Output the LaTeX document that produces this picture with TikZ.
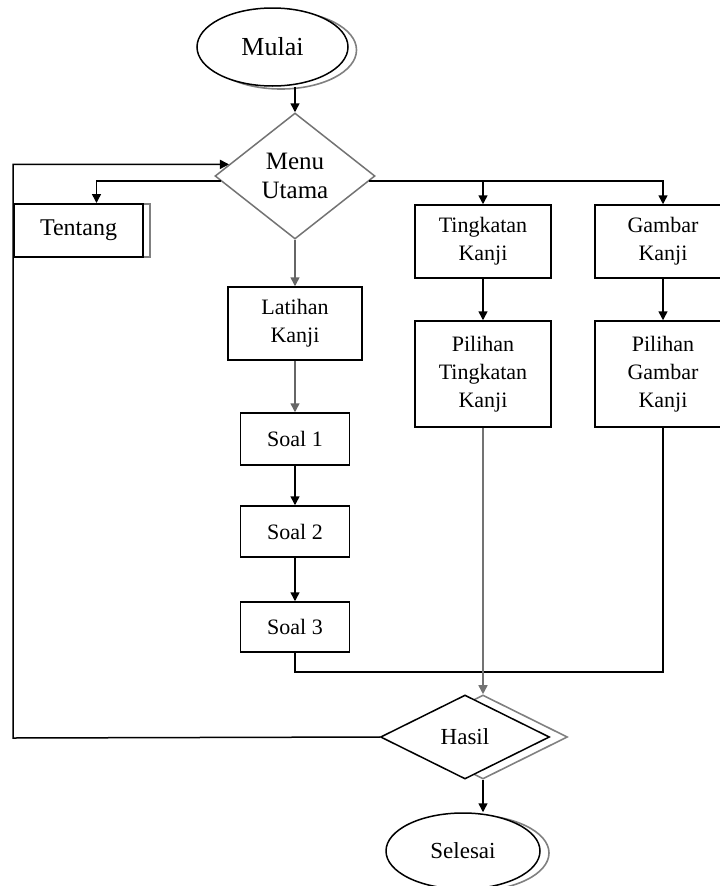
\documentclass[tikz,border=0pt]{standalone}
\usepackage{fontspec}
\setmainfont{Liberation Serif}
\usepackage{tikz}
\usetikzlibrary{arrows.meta,shapes}

\begin{document}
\begin{tikzpicture}[x=1pt,y=-1pt,>={Triangle[length=9pt,width=9pt]},
every node/.style={font=\fontsize{22}{28}\selectfont},
proses/.style={draw,line width=1.5pt,rectangle,inner sep=0pt,align=center,fill=white},
pilih/.style={draw,line width=1.5pt,diamond,inner sep=0pt,align=center,fill=white},
ujung/.style={draw,line width=1.5pt,ellipse,inner sep=0pt,fill=white},
bayang/.style={draw=black!50,line width=1.6pt},
garis/.style={line width=1.5pt}]
\useasboundingbox (0,0) rectangle (720,886);
% bayangan dulu
\node[bayang,ellipse,minimum width=151,minimum height=78] (mulaibg) at (281,50) {};
\node[bayang,rectangle,minimum width=129,minimum height=53] (tentangbg) at (85.5,230.5) {};
\node[bayang,diamond,minimum width=169,minimum height=84] (hasilbg) at (483,737) {};
\node[bayang,ellipse,minimum width=154,minimum height=76] (selesaibg) at (472,853) {};
% simbol
\node[ujung,minimum width=151,minimum height=78,font=\fontsize{26}{28}\selectfont] (mulai) at (272.5,47) {Mulai};
\node[pilih,draw=black!55,minimum width=160,minimum height=126,font=\fontsize{25}{29}\selectfont] (menu) at (295,176) {Menu\\Utama};
\node[proses,line width=2pt,minimum width=129,minimum height=53,font=\fontsize{24}{28}\selectfont] (tentang) at (78.5,230.5) {Tentang};
\node[proses,minimum width=134,minimum height=73] (latihan) at (295,323.5) {Latihan\\Kanji};
\node[proses,minimum width=109,minimum height=52] (soal1) at (295,439) {Soal 1};
\node[proses,minimum width=109,minimum height=51] (soal2) at (295,531.5) {Soal 2};
\node[proses,minimum width=109,minimum height=50] (soal3) at (295,627) {Soal 3};
\node[proses,minimum width=136,minimum height=73] (tingkat) at (483,241.5) {Tingkatan\\Kanji};
\node[proses,minimum width=136,minimum height=73] (gambar) at (663,241.5) {Gambar\\Kanji};
\node[proses,minimum width=136,minimum height=106] (piltingkat) at (483,374) {Pilihan\\Tingkatan\\Kanji};
\node[proses,minimum width=136,minimum height=106] (pilgambar) at (663,374) {Pilihan\\Gambar\\Kanji};
\node[pilih,minimum width=169,minimum height=84,font=\fontsize{23}{28}\selectfont] (hasil) at (465,737) {Hasil};
\node[ujung,minimum width=154,minimum height=76,font=\fontsize{23}{28}\selectfont] (selesai) at (463,851) {Selesai};
\coordinate (pojok) at (13,738);
% alur
\draw[garis,->](menu.north |- mulai.south)--(menu.north);
\draw[garis,->](menu.184)-|([xshift=18pt]tentang.north);
\draw[garis,->](menu.-4)-|(tingkat.north);
\draw[garis,->](menu.-4)-|(gambar.north);
\draw[garis,draw=black!60,->](menu.south)--(latihan.north);
\draw[garis,draw=black!60,->](latihan.south)--(soal1.north);
\draw[garis,->](soal1.south)--(soal2.north);
\draw[garis,->](soal2.south)--(soal3.north);
\draw[garis,->](tingkat.south)--(piltingkat.north);
\draw[garis,->](gambar.south)--(pilgambar.north);
\draw[garis](soal3.south)--++(0,19)-|(pilgambar.south);
\draw[line width=1.6pt,draw=black!55,->](piltingkat.south)--(hasilbg.north);
\draw[garis,->](hasilbg.south)--(hasilbg.south |- selesai.north);
\draw[garis,->](hasil.west)--(pojok)|-(menu.170);
\end{tikzpicture}
\end{document}
